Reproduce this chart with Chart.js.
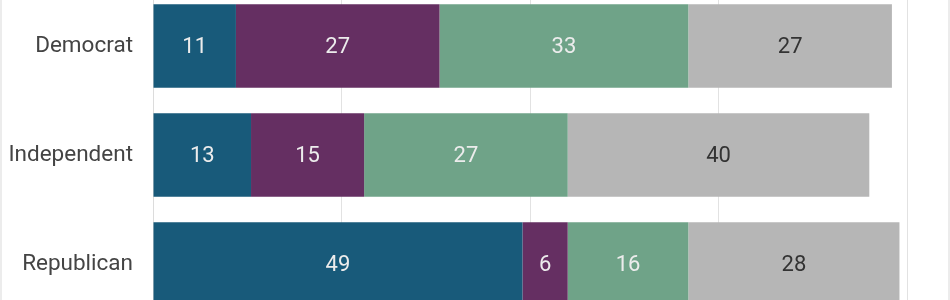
<!DOCTYPE html>
<html>
<head>
<meta charset="utf-8">
<script src="https://cdn.jsdelivr.net/npm/chart.js@4"></script>
<style>
  html, body { margin: 0; padding: 0; background: #fff; overflow: hidden; }
  #wrap { position: relative; width: 950px; height: 300px; overflow: hidden; }
  #holder { position: absolute; left: 0; top: -42px; width: 950px; height: 394px; }
  .edge { position: absolute; top: 0; width: 2px; height: 300px; background: #ececec; }
</style>
</head>
<body>
<div id="wrap">
  <div id="holder"><canvas id="c"></canvas></div>
  <div class="edge" style="left:0"></div>
  <div class="edge" style="left:948px"></div>
</div>
<script>
const categories = ["Democrat", "Independent", "Republican"];
const seriesA = [11, 13, 49];
const seriesB = [27, 15, 6];
const seriesC = [33, 27, 16];
const seriesD = [27, 40, 28];
const xTicks = [0, 25, 50, 75, 100];

const colors = ["#185a7a", "#652f62", "#6fa388", "#b6b6b6"];
const labelColors = ["#ececec", "#ececec", "#ececec", "#333333"];

const valueLabels = {
  id: 'valueLabels',
  afterDatasetsDraw(chart) {
    const ctx = chart.ctx;
    ctx.save();
    ctx.font = '22px Roboto';
    ctx.textAlign = 'center';
    ctx.textBaseline = 'middle';
    chart.data.datasets.forEach((ds, di) => {
      const meta = chart.getDatasetMeta(di);
      meta.data.forEach((el, i) => {
        const p = el.getCenterPoint();
        ctx.fillStyle = labelColors[di];
        ctx.fillText(String(ds.data[i]), p.x, p.y + 1);
      });
    });
    ctx.restore();
  }
};

const sets = [seriesA, seriesB, seriesC, seriesD];
new Chart(document.getElementById('c'), {
  type: 'bar',
  data: {
    labels: categories,
    datasets: sets.map((d, i) => ({
      data: d,
      backgroundColor: colors[i],
      borderWidth: 0,
      barPercentage: 0.764,
      categoryPercentage: 1.0
    }))
  },
  options: {
    indexAxis: 'y',
    responsive: true,
    maintainAspectRatio: false,
    animation: false,
    layout: { padding: { left: 0, right: 43, top: 0, bottom: 0 } },
    plugins: { legend: { display: false }, tooltip: { enabled: false } },
    scales: {
      x: {
        stacked: true,
        min: 0, max: 100,
        afterBuildTicks(axis) { axis.ticks = xTicks.map(v => ({ value: v })); },
        ticks: { display: false },
        grid: { color: '#e2e2e2', lineWidth: 1, drawTicks: false },
        border: { display: false }
      },
      y: {
        stacked: true,
        afterFit(axis) { axis.width = 153; },
        ticks: { color: '#444', font: { family: 'Roboto', size: 22.5 }, padding: 20 },
        grid: { display: false, drawTicks: false },
        border: { display: true, color: '#dcdcdc', width: 1 }
      }
    }
  },
  plugins: [valueLabels]
});
</script>
</body>
</html>
